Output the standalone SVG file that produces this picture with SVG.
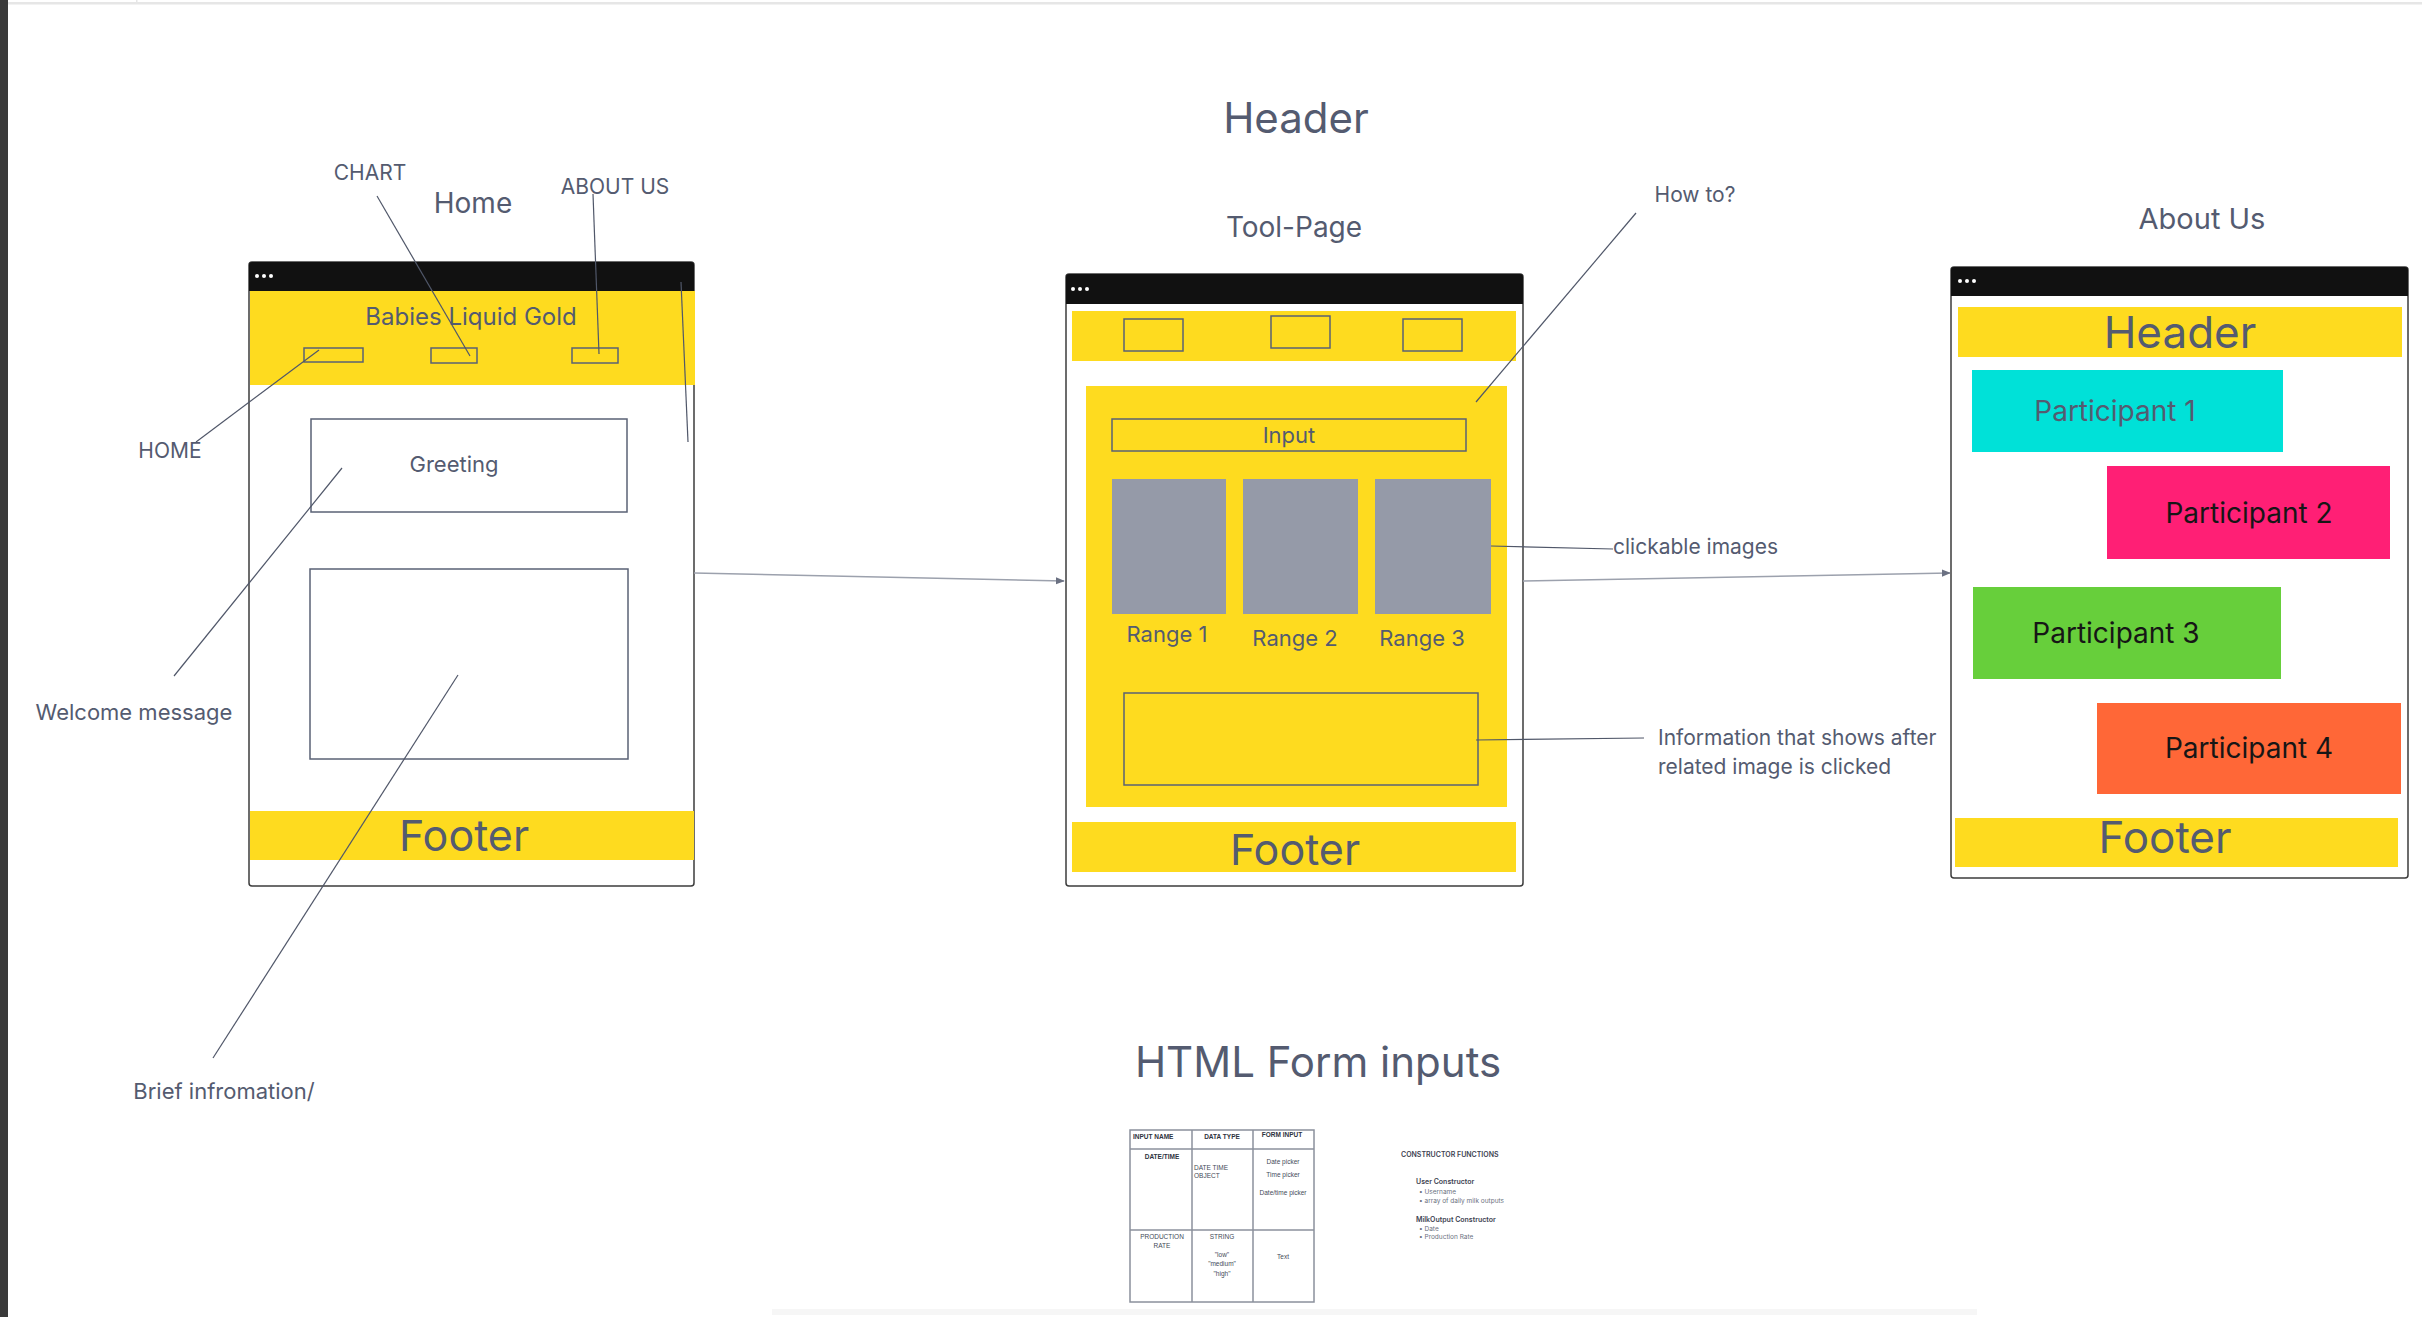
<svg xmlns="http://www.w3.org/2000/svg" width="2422" height="1317" viewBox="0 0 2422 1317">
  <style>
    .lbl { font-family: Inter, "Liberation Sans", sans-serif; fill: #545b70; }
    .dark { font-family: Inter, "Liberation Sans", sans-serif; fill: #161616; }
    .win { fill: #ffffff; stroke: #3c3c3c; stroke-width: 1.5; }
    .bar { fill: #111111; }
    .yel { fill: #fedb1f; }
    .box { fill: none; stroke: #5a6275; stroke-width: 1.5; }
    .img { fill: #959aa8; }
    .lead { fill: none; stroke: #505769; stroke-width: 1.2; }
    .conn { fill: none; stroke: #9ca1ad; stroke-width: 1.5; }
    .tbl { fill: none; stroke: #8b909c; stroke-width: 1.5; }
    .tt { font-family: "Liberation Sans", Arial, sans-serif; font-size: 6.5px; fill: #444a58; }
    .ttb { font-family: "Liberation Sans", Arial, sans-serif; font-size: 6.5px; font-weight: bold; fill: #2e3340; }
    .ct { font-family: Inter, "Liberation Sans", sans-serif; font-size: 6.5px; fill: #6b7180; }
    .ctb { font-family: Inter, "Liberation Sans", sans-serif; font-size: 7px; font-weight: 600; fill: #3e4352; }
  </style>
  <defs>
    <marker id="arr" viewBox="0 0 10 10" refX="9" refY="5" markerWidth="6" markerHeight="6" orient="auto">
      <path d="M0,1 L10,5 L0,9 z" fill="#6b7182"/>
    </marker>
    <g id="dots">
      <circle cx="0" cy="0" r="2" fill="#ffffff"/>
      <circle cx="7" cy="0" r="2" fill="#ffffff"/>
      <circle cx="14" cy="0" r="2" fill="#ffffff"/>
    </g>
  </defs>

  <!-- canvas chrome -->
  <rect x="0" y="0" width="2422" height="1317" fill="#ffffff"/>
  <rect x="0" y="0" width="8" height="1317" fill="#3a3a3a"/>
  <rect x="8" y="2" width="2414" height="2.5" fill="#e6e6e6"/>
  <rect x="136" y="0" width="1.5" height="3" fill="#e6e6e6"/>
  <rect x="772" y="1309" width="1205" height="6" fill="#f6f6f6"/>

  <!-- titles -->
  <text class="lbl" x="1296" y="133" font-size="42" text-anchor="middle">Header</text>
  <text class="lbl" x="1318" y="1077" font-size="42" text-anchor="middle">HTML Form inputs</text>

  <!-- Home page -->
  <g id="home">
    <text class="lbl" x="473" y="213" font-size="28" text-anchor="middle">Home</text>
    <rect class="win" x="249" y="262" width="445" height="624" rx="3"/>
    <path class="bar" d="M249,291 L249,265 Q249,262 252,262 L691,262 Q694,262 694,265 L694,291 z"/>
    <use href="#dots" x="257" y="276"/>
    <rect class="yel" x="250" y="291" width="445" height="94"/>
    <text class="lbl" x="471" y="325" font-size="24" text-anchor="middle">Babies Liquid Gold</text>
    <rect class="box" x="304" y="348" width="59" height="14"/>
    <rect class="box" x="431" y="348" width="46" height="15"/>
    <rect class="box" x="572" y="348" width="46" height="15"/>
    <rect class="box" x="311" y="419" width="316" height="93"/>
    <text class="lbl" x="454" y="472" font-size="22" text-anchor="middle">Greeting</text>
    <rect class="box" x="310" y="569" width="318" height="190"/>
    <rect class="yel" x="250" y="811" width="444" height="49"/>
    <text class="lbl" x="464" y="851" font-size="43" text-anchor="middle">Footer</text>
  </g>

  <!-- Home labels -->
  <g id="home-labels">
    <text class="lbl" x="370" y="180" font-size="21" text-anchor="middle">CHART</text>
    <text class="lbl" x="615" y="194" font-size="21" text-anchor="middle">ABOUT US</text>
    <text class="lbl" x="170" y="458" font-size="21" text-anchor="middle">HOME</text>
    <text class="lbl" x="134" y="720" font-size="22" text-anchor="middle">Welcome message</text>
    <text class="lbl" x="224" y="1099" font-size="22" text-anchor="middle">Brief infromation/</text>
  </g>

  <!-- Tool page -->
  <g id="tool-page">
    <text class="lbl" x="1294" y="237" font-size="28" text-anchor="middle">Tool-Page</text>
    <rect class="win" x="1066" y="274" width="457" height="612" rx="3"/>
    <path class="bar" d="M1066,304 L1066,277 Q1066,274 1069,274 L1520,274 Q1523,274 1523,277 L1523,304 z"/>
    <use href="#dots" x="1073" y="289"/>
    <rect class="yel" x="1072" y="311" width="444" height="50"/>
    <rect class="box" x="1124" y="319" width="59" height="32"/>
    <rect class="box" x="1271" y="316" width="59" height="32"/>
    <rect class="box" x="1403" y="319" width="59" height="32"/>
    <rect class="yel" x="1086" y="386" width="421" height="421"/>
    <rect class="box" x="1112" y="419" width="354" height="32"/>
    <text class="lbl" x="1289" y="443" font-size="22" text-anchor="middle">Input</text>
    <rect class="img" x="1112" y="479" width="114" height="135"/>
    <rect class="img" x="1243" y="479" width="115" height="135"/>
    <rect class="img" x="1375" y="479" width="116" height="135"/>
    <text class="lbl" x="1167" y="642" font-size="22" text-anchor="middle">Range 1</text>
    <text class="lbl" x="1295" y="646" font-size="22" text-anchor="middle">Range 2</text>
    <text class="lbl" x="1422" y="646" font-size="22" text-anchor="middle">Range 3</text>
    <rect class="box" x="1124" y="693" width="354" height="92"/>
    <rect class="yel" x="1072" y="822" width="444" height="50"/>
    <text class="lbl" x="1295" y="865" font-size="43" text-anchor="middle">Footer</text>
  </g>

  <!-- Tool page labels -->
  <g id="tool-labels">
    <text class="lbl" x="1695" y="202" font-size="21" text-anchor="middle">How to?</text>
    <text class="lbl" x="1613" y="554" font-size="21">clickable images</text>
    <text class="lbl" x="1658" y="745" font-size="21">Information that shows after</text>
    <text class="lbl" x="1658" y="774" font-size="21">related image is clicked</text>
  </g>

  <!-- About Us page -->
  <g id="about-us">
    <text class="lbl" x="2202" y="229" font-size="29" text-anchor="middle">About Us</text>
    <rect class="win" x="1951" y="267" width="457" height="611" rx="3"/>
    <path class="bar" d="M1951,296 L1951,270 Q1951,267 1954,267 L2405,267 Q2408,267 2408,270 L2408,296 z"/>
    <use href="#dots" x="1960" y="281"/>
    <rect class="yel" x="1958" y="307" width="444" height="50"/>
    <text class="lbl" x="2180" y="348" font-size="44" text-anchor="middle">Header</text>
    <rect x="1972" y="370" width="311" height="82" fill="#00e1d8"/>
    <text class="lbl" x="2115" y="421" font-size="28" text-anchor="middle">Participant 1</text>
    <rect x="2107" y="466" width="283" height="93" fill="#ff1f75"/>
    <text class="dark" x="2249" y="523" font-size="28" text-anchor="middle">Participant 2</text>
    <rect x="1973" y="587" width="308" height="92" fill="#67cf3b"/>
    <text class="dark" x="2116" y="643" font-size="28" text-anchor="middle">Participant 3</text>
    <rect x="2097" y="703" width="304" height="91" fill="#ff6737"/>
    <text class="dark" x="2249" y="758" font-size="28" text-anchor="middle">Participant 4</text>
    <rect class="yel" x="1955" y="818" width="443" height="49"/>
    <text class="lbl" x="2165" y="853" font-size="44" text-anchor="middle">Footer</text>
  </g>

  <!-- form input table -->
  <g id="form-table">
    <rect class="tbl" x="1130" y="1130" width="184" height="172"/>
    <line class="tbl" x1="1192" y1="1130" x2="1192" y2="1302"/>
    <line class="tbl" x1="1253" y1="1130" x2="1253" y2="1302"/>
    <line class="tbl" x1="1130" y1="1149" x2="1314" y2="1149"/>
    <line class="tbl" x1="1130" y1="1230" x2="1314" y2="1230"/>
    <text class="ttb" x="1133" y="1139">INPUT NAME</text>
    <text class="ttb" x="1222" y="1139" text-anchor="middle">DATA TYPE</text>
    <text class="ttb" x="1282" y="1137" text-anchor="middle">FORM INPUT</text>
    <text class="ttb" x="1162" y="1159" text-anchor="middle">DATE/TIME</text>
    <text class="tt" x="1194" y="1170">DATE TIME</text>
    <text class="tt" x="1194" y="1178">OBJECT</text>
    <text class="tt" x="1283" y="1164" text-anchor="middle">Date picker</text>
    <text class="tt" x="1283" y="1177" text-anchor="middle">Time picker</text>
    <text class="tt" x="1283" y="1195" text-anchor="middle">Date/time picker</text>
    <text class="tt" x="1162" y="1239" text-anchor="middle">PRODUCTION</text>
    <text class="tt" x="1162" y="1248" text-anchor="middle">RATE</text>
    <text class="tt" x="1222" y="1239" text-anchor="middle">STRING</text>
    <text class="tt" x="1222" y="1257" text-anchor="middle">"low"</text>
    <text class="tt" x="1222" y="1266" text-anchor="middle">"medium"</text>
    <text class="tt" x="1222" y="1276" text-anchor="middle">"high"</text>
    <text class="tt" x="1283" y="1259" text-anchor="middle">Text</text>
  </g>

  <!-- constructor notes -->
  <g id="constructors">
    <text class="ctb" x="1401" y="1157">CONSTRUCTOR FUNCTIONS</text>
    <text class="ctb" x="1416" y="1184">User Constructor</text>
    <text class="ct" x="1419" y="1194">•  Username</text>
    <text class="ct" x="1419" y="1203">•  array of daily milk outputs</text>
    <text class="ctb" x="1416" y="1222">MilkOutput Constructor</text>
    <text class="ct" x="1419" y="1231">•  Date</text>
    <text class="ct" x="1419" y="1239">•  Production Rate</text>
  </g>

  <!-- connectors between pages and leader lines, drawn over the pages -->
  <g id="connectors">
    <path class="conn" d="M694,573 L1064,581" marker-end="url(#arr)"/>
    <path class="conn" d="M1523,581 L1950,573" marker-end="url(#arr)"/>
    <path class="lead" d="M377,196 L470,356"/>
    <path class="lead" d="M593,194 L599,354"/>
    <path class="lead" d="M196,442 L319,350"/>
    <path class="lead" d="M681,282 L688,442"/>
    <path class="lead" d="M342,468 L174,676"/>
    <path class="lead" d="M458,675 L213,1058"/>
    <path class="lead" d="M1636,213 L1476,402"/>
    <path class="lead" d="M1491,546 L1613,549"/>
    <path class="lead" d="M1476,740 L1644,738"/>
  </g>
</svg>
